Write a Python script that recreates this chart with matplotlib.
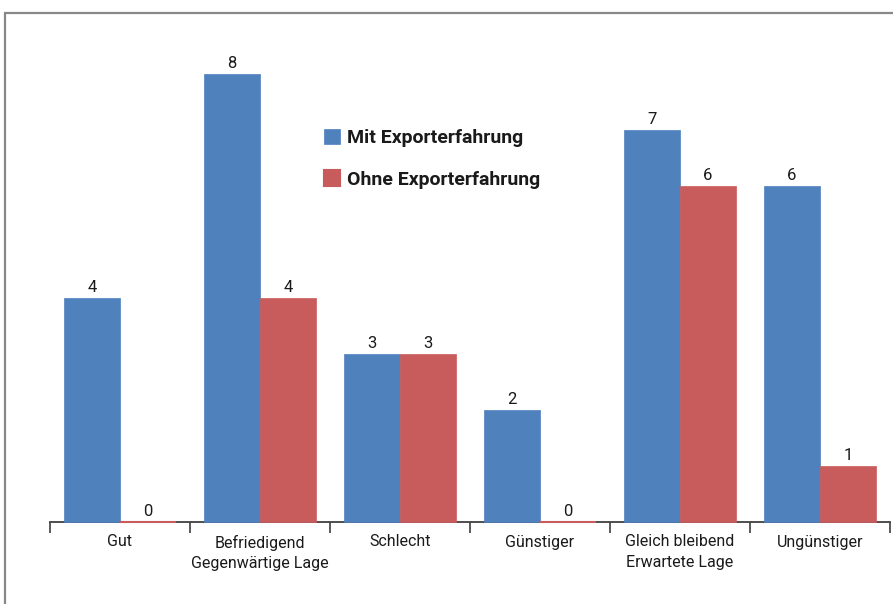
import matplotlib.pyplot as plt
from matplotlib.patches import Rectangle
import numpy as np

# Data
categories = ['Gut', 'Befriedigend\nGegenwärtige Lage', 'Schlecht',
              'Günstiger', 'Gleich bleibend\nErwartete Lage', 'Ungünstiger']
mit_export = [4, 8, 3, 2, 7, 6]
ohne_export = [0, 4, 3, 0, 6, 1]
series_names = ['Mit Exporterfahrung', 'Ohne Exporterfahrung']

plt.rcParams['font.family'] = ['Liberation Sans Narrow', 'Roboto', 'DejaVu Sans']

blue = '#4F81BD'
red = '#C85C5C'
txt = '#1a1a1a'

fig = plt.figure(figsize=(8.93, 6.04), dpi=100)
ax = fig.add_axes([50/893, 82/604, 840/893, 8.8*56/604])

x = np.arange(len(categories))
w = 0.4
b1 = ax.bar(x - w/2, mit_export, w, color=blue, label=series_names[0],
            edgecolor=blue, linewidth=0.5, zorder=3, clip_on=False)
# zero-height bars still show as a thin red line on the axis
b2 = ax.bar(x + w/2, ohne_export, w, color=red, label=series_names[1],
            edgecolor=red, linewidth=[1.5 if v == 0 else 0.5 for v in ohne_export],
            zorder=3, clip_on=False)

for bars, vals in ((b1, mit_export), (b2, ohne_export)):
    for r, v in zip(bars, vals):
        ax.text(r.get_x() + r.get_width()/2, v + 0.1, str(v),
                ha='center', va='baseline', fontsize=12, color=txt)

ax.set_xlim(-0.5, len(categories) - 0.5)
ax.set_ylim(0, 8.8)
ax.set_yticks([])
for s in ('top', 'right', 'left'):
    ax.spines[s].set_visible(False)
ax.spines['bottom'].set_color('#404040')
ax.spines['bottom'].set_linewidth(1.3)

ax.set_xticks(x)
ax.set_xticklabels(categories, fontsize=11.5, color=txt, linespacing=1.45)
ax.tick_params(axis='x', which='major', length=0, pad=9)
ax.set_xticks(np.arange(-0.5, len(categories)), minor=True)
ax.tick_params(axis='x', which='minor', length=8, width=1.2, color='#404040')

leg = ax.legend(loc='upper left', bbox_to_anchor=(306/893, 493/604),
                bbox_transform=fig.transFigure, frameon=False,
                handlelength=0.85, handleheight=0.85, handletextpad=0.35,
                labelspacing=1.2, prop={'size': 14, 'weight': 'bold'})
for t in leg.get_texts():
    t.set_color(txt)

# gray frame around the figure (left and top edges visible)
fig.patches.append(Rectangle((5/893, -0.1), 1.2, 1.1 - 13/604,
                             transform=fig.transFigure, fill=False,
                             edgecolor='#888888', linewidth=1.6))

fig.savefig('out.png', dpi=100)
